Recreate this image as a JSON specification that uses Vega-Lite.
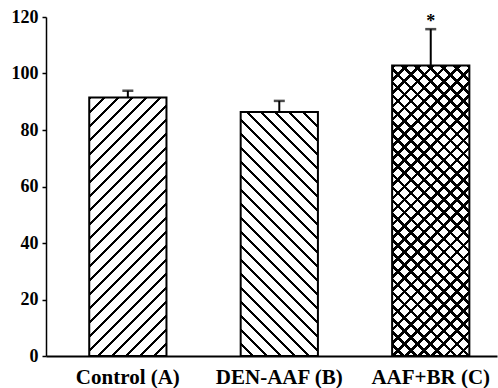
{
"$schema":"https://vega.github.io/schema/vega-lite/v6.json",
"autosize":{"type":"none"},
"padding":{"left":46,"top":17,"right":1,"bottom":32},
"width":451,"height":339,
"background":"white",
"config":{"view":{"stroke":null}},
"data":{"values":[
{"group":"Control (A)","value":91.5,"upper":93.9,"sig":""},
{"group":"DEN-AAF (B)","value":86.4,"upper":90.3,"sig":""},
{"group":"AAF+BR (C)","value":102.8,"upper":115.7,"sig":"*"}
]},
"encoding":{
"x":{"field":"group","type":"nominal","title":null,
 "scale":{"domain":["Control (A)","DEN-AAF (B)","AAF+BR (C)"],"paddingInner":0.49,"paddingOuter":0.234,"align":0.61},
 "axis":{"labelAngle":0,"ticks":false,"tickSize":0,"labelPadding":10,"domainColor":"black","domainWidth":2,"labelFont":"Liberation Serif","labelFontWeight":"bold","labelFontSize":21,"labelColor":"black","grid":false}},
"y":{"field":"value","type":"quantitative","title":null,
 "scale":{"domain":[0,120],"nice":false,"zero":true},
 "axis":{"values":[0,20,40,60,80,100,120],"grid":false,"domainColor":"black","domainWidth":1.5,"tickColor":"black","tickSize":4,"tickWidth":1.5,"labelPadding":4,"labelFont":"Liberation Serif","labelFontWeight":"bold","labelFontSize":18,"labelColor":"black"}}
},
"layer":[
{"transform":[{"filter":"datum.group === 'Control (A)'"}],
 "mark":{"type":"bar","stroke":"black","strokeWidth":2,
 "fill":{"gradient":"linear","x1":0,"y1":0,"x2":0.3563,"y2":1.1923,"stops":[
{"offset":0,"color":"black"},{"offset":0.008333,"color":"black"},{"offset":0.008333,"color":"white"},{"offset":0.041667,"color":"white"},
{"offset":0.041667,"color":"black"},{"offset":0.05,"color":"black"},{"offset":0.05,"color":"white"},{"offset":0.083333,"color":"white"},
{"offset":0.083333,"color":"black"},{"offset":0.091667,"color":"black"},{"offset":0.091667,"color":"white"},{"offset":0.125,"color":"white"},
{"offset":0.125,"color":"black"},{"offset":0.133333,"color":"black"},{"offset":0.133333,"color":"white"},{"offset":0.166667,"color":"white"},
{"offset":0.166667,"color":"black"},{"offset":0.175,"color":"black"},{"offset":0.175,"color":"white"},{"offset":0.208333,"color":"white"},
{"offset":0.208333,"color":"black"},{"offset":0.216667,"color":"black"},{"offset":0.216667,"color":"white"},{"offset":0.25,"color":"white"},
{"offset":0.25,"color":"black"},{"offset":0.258333,"color":"black"},{"offset":0.258333,"color":"white"},{"offset":0.291667,"color":"white"},
{"offset":0.291667,"color":"black"},{"offset":0.3,"color":"black"},{"offset":0.3,"color":"white"},{"offset":0.333333,"color":"white"},
{"offset":0.333333,"color":"black"},{"offset":0.341667,"color":"black"},{"offset":0.341667,"color":"white"},{"offset":0.375,"color":"white"},
{"offset":0.375,"color":"black"},{"offset":0.383333,"color":"black"},{"offset":0.383333,"color":"white"},{"offset":0.416667,"color":"white"},
{"offset":0.416667,"color":"black"},{"offset":0.425,"color":"black"},{"offset":0.425,"color":"white"},{"offset":0.458333,"color":"white"},
{"offset":0.458333,"color":"black"},{"offset":0.466667,"color":"black"},{"offset":0.466667,"color":"white"},{"offset":0.5,"color":"white"},
{"offset":0.5,"color":"black"},{"offset":0.508333,"color":"black"},{"offset":0.508333,"color":"white"},{"offset":0.541667,"color":"white"},
{"offset":0.541667,"color":"black"},{"offset":0.55,"color":"black"},{"offset":0.55,"color":"white"},{"offset":0.583333,"color":"white"},
{"offset":0.583333,"color":"black"},{"offset":0.591667,"color":"black"},{"offset":0.591667,"color":"white"},{"offset":0.625,"color":"white"},
{"offset":0.625,"color":"black"},{"offset":0.633333,"color":"black"},{"offset":0.633333,"color":"white"},{"offset":0.666667,"color":"white"},
{"offset":0.666667,"color":"black"},{"offset":0.675,"color":"black"},{"offset":0.675,"color":"white"},{"offset":0.708333,"color":"white"},
{"offset":0.708333,"color":"black"},{"offset":0.716667,"color":"black"},{"offset":0.716667,"color":"white"},{"offset":0.75,"color":"white"},
{"offset":0.75,"color":"black"},{"offset":0.758333,"color":"black"},{"offset":0.758333,"color":"white"},{"offset":0.791667,"color":"white"},
{"offset":0.791667,"color":"black"},{"offset":0.8,"color":"black"},{"offset":0.8,"color":"white"},{"offset":0.833333,"color":"white"},
{"offset":0.833333,"color":"black"},{"offset":0.841667,"color":"black"},{"offset":0.841667,"color":"white"},{"offset":0.875,"color":"white"},
{"offset":0.875,"color":"black"},{"offset":0.883333,"color":"black"},{"offset":0.883333,"color":"white"},{"offset":0.916667,"color":"white"},
{"offset":0.916667,"color":"black"},{"offset":0.925,"color":"black"},{"offset":0.925,"color":"white"},{"offset":0.958333,"color":"white"},
{"offset":0.958333,"color":"black"},{"offset":0.966667,"color":"black"},{"offset":0.966667,"color":"white"},{"offset":1,"color":"white"}
]}}},
{"transform":[{"filter":"datum.group === 'DEN-AAF (B)'"}],
 "mark":{"type":"bar","stroke":"black","strokeWidth":2,
 "fill":{"gradient":"linear","x1":1,"y1":0,"x2":0.6213,"y2":1.1966,"stops":[
{"offset":0,"color":"black"},{"offset":0.008696,"color":"black"},{"offset":0.008696,"color":"white"},{"offset":0.043478,"color":"white"},
{"offset":0.043478,"color":"black"},{"offset":0.052174,"color":"black"},{"offset":0.052174,"color":"white"},{"offset":0.086957,"color":"white"},
{"offset":0.086957,"color":"black"},{"offset":0.095652,"color":"black"},{"offset":0.095652,"color":"white"},{"offset":0.130435,"color":"white"},
{"offset":0.130435,"color":"black"},{"offset":0.13913,"color":"black"},{"offset":0.13913,"color":"white"},{"offset":0.173913,"color":"white"},
{"offset":0.173913,"color":"black"},{"offset":0.182609,"color":"black"},{"offset":0.182609,"color":"white"},{"offset":0.217391,"color":"white"},
{"offset":0.217391,"color":"black"},{"offset":0.226087,"color":"black"},{"offset":0.226087,"color":"white"},{"offset":0.26087,"color":"white"},
{"offset":0.26087,"color":"black"},{"offset":0.269565,"color":"black"},{"offset":0.269565,"color":"white"},{"offset":0.304348,"color":"white"},
{"offset":0.304348,"color":"black"},{"offset":0.313043,"color":"black"},{"offset":0.313043,"color":"white"},{"offset":0.347826,"color":"white"},
{"offset":0.347826,"color":"black"},{"offset":0.356522,"color":"black"},{"offset":0.356522,"color":"white"},{"offset":0.391304,"color":"white"},
{"offset":0.391304,"color":"black"},{"offset":0.4,"color":"black"},{"offset":0.4,"color":"white"},{"offset":0.434783,"color":"white"},
{"offset":0.434783,"color":"black"},{"offset":0.443478,"color":"black"},{"offset":0.443478,"color":"white"},{"offset":0.478261,"color":"white"},
{"offset":0.478261,"color":"black"},{"offset":0.486957,"color":"black"},{"offset":0.486957,"color":"white"},{"offset":0.521739,"color":"white"},
{"offset":0.521739,"color":"black"},{"offset":0.530435,"color":"black"},{"offset":0.530435,"color":"white"},{"offset":0.565217,"color":"white"},
{"offset":0.565217,"color":"black"},{"offset":0.573913,"color":"black"},{"offset":0.573913,"color":"white"},{"offset":0.608696,"color":"white"},
{"offset":0.608696,"color":"black"},{"offset":0.617391,"color":"black"},{"offset":0.617391,"color":"white"},{"offset":0.652174,"color":"white"},
{"offset":0.652174,"color":"black"},{"offset":0.66087,"color":"black"},{"offset":0.66087,"color":"white"},{"offset":0.695652,"color":"white"},
{"offset":0.695652,"color":"black"},{"offset":0.704348,"color":"black"},{"offset":0.704348,"color":"white"},{"offset":0.73913,"color":"white"},
{"offset":0.73913,"color":"black"},{"offset":0.747826,"color":"black"},{"offset":0.747826,"color":"white"},{"offset":0.782609,"color":"white"},
{"offset":0.782609,"color":"black"},{"offset":0.791304,"color":"black"},{"offset":0.791304,"color":"white"},{"offset":0.826087,"color":"white"},
{"offset":0.826087,"color":"black"},{"offset":0.834783,"color":"black"},{"offset":0.834783,"color":"white"},{"offset":0.869565,"color":"white"},
{"offset":0.869565,"color":"black"},{"offset":0.878261,"color":"black"},{"offset":0.878261,"color":"white"},{"offset":0.913043,"color":"white"},
{"offset":0.913043,"color":"black"},{"offset":0.921739,"color":"black"},{"offset":0.921739,"color":"white"},{"offset":0.956522,"color":"white"},
{"offset":0.956522,"color":"black"},{"offset":0.965217,"color":"black"},{"offset":0.965217,"color":"white"},{"offset":1,"color":"white"}
]}}},
{"transform":[{"filter":"datum.group === 'AAF+BR (C)'"}],
 "mark":{"type":"bar","strokeWidth":0,
 "fill":{"gradient":"linear","x1":0,"y1":0,"x2":0.3145,"y2":1.1823,"stops":[
{"offset":0,"color":"black"},{"offset":0.01,"color":"black"},{"offset":0.01,"color":"white"},{"offset":0.035714,"color":"white"},
{"offset":0.035714,"color":"black"},{"offset":0.045714,"color":"black"},{"offset":0.045714,"color":"white"},{"offset":0.071429,"color":"white"},
{"offset":0.071429,"color":"black"},{"offset":0.081429,"color":"black"},{"offset":0.081429,"color":"white"},{"offset":0.107143,"color":"white"},
{"offset":0.107143,"color":"black"},{"offset":0.117143,"color":"black"},{"offset":0.117143,"color":"white"},{"offset":0.142857,"color":"white"},
{"offset":0.142857,"color":"black"},{"offset":0.152857,"color":"black"},{"offset":0.152857,"color":"white"},{"offset":0.178571,"color":"white"},
{"offset":0.178571,"color":"black"},{"offset":0.188571,"color":"black"},{"offset":0.188571,"color":"white"},{"offset":0.214286,"color":"white"},
{"offset":0.214286,"color":"black"},{"offset":0.224286,"color":"black"},{"offset":0.224286,"color":"white"},{"offset":0.25,"color":"white"},
{"offset":0.25,"color":"black"},{"offset":0.26,"color":"black"},{"offset":0.26,"color":"white"},{"offset":0.285714,"color":"white"},
{"offset":0.285714,"color":"black"},{"offset":0.295714,"color":"black"},{"offset":0.295714,"color":"white"},{"offset":0.321429,"color":"white"},
{"offset":0.321429,"color":"black"},{"offset":0.331429,"color":"black"},{"offset":0.331429,"color":"white"},{"offset":0.357143,"color":"white"},
{"offset":0.357143,"color":"black"},{"offset":0.367143,"color":"black"},{"offset":0.367143,"color":"white"},{"offset":0.392857,"color":"white"},
{"offset":0.392857,"color":"black"},{"offset":0.402857,"color":"black"},{"offset":0.402857,"color":"white"},{"offset":0.428571,"color":"white"},
{"offset":0.428571,"color":"black"},{"offset":0.438571,"color":"black"},{"offset":0.438571,"color":"white"},{"offset":0.464286,"color":"white"},
{"offset":0.464286,"color":"black"},{"offset":0.474286,"color":"black"},{"offset":0.474286,"color":"white"},{"offset":0.5,"color":"white"},
{"offset":0.5,"color":"black"},{"offset":0.51,"color":"black"},{"offset":0.51,"color":"white"},{"offset":0.535714,"color":"white"},
{"offset":0.535714,"color":"black"},{"offset":0.545714,"color":"black"},{"offset":0.545714,"color":"white"},{"offset":0.571429,"color":"white"},
{"offset":0.571429,"color":"black"},{"offset":0.581429,"color":"black"},{"offset":0.581429,"color":"white"},{"offset":0.607143,"color":"white"},
{"offset":0.607143,"color":"black"},{"offset":0.617143,"color":"black"},{"offset":0.617143,"color":"white"},{"offset":0.642857,"color":"white"},
{"offset":0.642857,"color":"black"},{"offset":0.652857,"color":"black"},{"offset":0.652857,"color":"white"},{"offset":0.678571,"color":"white"},
{"offset":0.678571,"color":"black"},{"offset":0.688571,"color":"black"},{"offset":0.688571,"color":"white"},{"offset":0.714286,"color":"white"},
{"offset":0.714286,"color":"black"},{"offset":0.724286,"color":"black"},{"offset":0.724286,"color":"white"},{"offset":0.75,"color":"white"},
{"offset":0.75,"color":"black"},{"offset":0.76,"color":"black"},{"offset":0.76,"color":"white"},{"offset":0.785714,"color":"white"},
{"offset":0.785714,"color":"black"},{"offset":0.795714,"color":"black"},{"offset":0.795714,"color":"white"},{"offset":0.821429,"color":"white"},
{"offset":0.821429,"color":"black"},{"offset":0.831429,"color":"black"},{"offset":0.831429,"color":"white"},{"offset":0.857143,"color":"white"},
{"offset":0.857143,"color":"black"},{"offset":0.867143,"color":"black"},{"offset":0.867143,"color":"white"},{"offset":0.892857,"color":"white"},
{"offset":0.892857,"color":"black"},{"offset":0.902857,"color":"black"},{"offset":0.902857,"color":"white"},{"offset":0.928571,"color":"white"},
{"offset":0.928571,"color":"black"},{"offset":0.938571,"color":"black"},{"offset":0.938571,"color":"white"},{"offset":0.964286,"color":"white"},
{"offset":0.964286,"color":"black"},{"offset":0.974286,"color":"black"},{"offset":0.974286,"color":"white"},{"offset":1,"color":"white"}
]}}},
{"transform":[{"filter":"datum.group === 'AAF+BR (C)'"}],
 "mark":{"type":"bar","stroke":"black","strokeWidth":2,
 "fill":{"gradient":"linear","x1":1,"y1":0,"x2":0.6855,"y2":1.1823,"stops":[
{"offset":0,"color":"black"},{"offset":0.01,"color":"black"},{"offset":0.01,"color":"rgba(0,0,0,0)"},{"offset":0.035714,"color":"rgba(0,0,0,0)"},
{"offset":0.035714,"color":"black"},{"offset":0.045714,"color":"black"},{"offset":0.045714,"color":"rgba(0,0,0,0)"},{"offset":0.071429,"color":"rgba(0,0,0,0)"},
{"offset":0.071429,"color":"black"},{"offset":0.081429,"color":"black"},{"offset":0.081429,"color":"rgba(0,0,0,0)"},{"offset":0.107143,"color":"rgba(0,0,0,0)"},
{"offset":0.107143,"color":"black"},{"offset":0.117143,"color":"black"},{"offset":0.117143,"color":"rgba(0,0,0,0)"},{"offset":0.142857,"color":"rgba(0,0,0,0)"},
{"offset":0.142857,"color":"black"},{"offset":0.152857,"color":"black"},{"offset":0.152857,"color":"rgba(0,0,0,0)"},{"offset":0.178571,"color":"rgba(0,0,0,0)"},
{"offset":0.178571,"color":"black"},{"offset":0.188571,"color":"black"},{"offset":0.188571,"color":"rgba(0,0,0,0)"},{"offset":0.214286,"color":"rgba(0,0,0,0)"},
{"offset":0.214286,"color":"black"},{"offset":0.224286,"color":"black"},{"offset":0.224286,"color":"rgba(0,0,0,0)"},{"offset":0.25,"color":"rgba(0,0,0,0)"},
{"offset":0.25,"color":"black"},{"offset":0.26,"color":"black"},{"offset":0.26,"color":"rgba(0,0,0,0)"},{"offset":0.285714,"color":"rgba(0,0,0,0)"},
{"offset":0.285714,"color":"black"},{"offset":0.295714,"color":"black"},{"offset":0.295714,"color":"rgba(0,0,0,0)"},{"offset":0.321429,"color":"rgba(0,0,0,0)"},
{"offset":0.321429,"color":"black"},{"offset":0.331429,"color":"black"},{"offset":0.331429,"color":"rgba(0,0,0,0)"},{"offset":0.357143,"color":"rgba(0,0,0,0)"},
{"offset":0.357143,"color":"black"},{"offset":0.367143,"color":"black"},{"offset":0.367143,"color":"rgba(0,0,0,0)"},{"offset":0.392857,"color":"rgba(0,0,0,0)"},
{"offset":0.392857,"color":"black"},{"offset":0.402857,"color":"black"},{"offset":0.402857,"color":"rgba(0,0,0,0)"},{"offset":0.428571,"color":"rgba(0,0,0,0)"},
{"offset":0.428571,"color":"black"},{"offset":0.438571,"color":"black"},{"offset":0.438571,"color":"rgba(0,0,0,0)"},{"offset":0.464286,"color":"rgba(0,0,0,0)"},
{"offset":0.464286,"color":"black"},{"offset":0.474286,"color":"black"},{"offset":0.474286,"color":"rgba(0,0,0,0)"},{"offset":0.5,"color":"rgba(0,0,0,0)"},
{"offset":0.5,"color":"black"},{"offset":0.51,"color":"black"},{"offset":0.51,"color":"rgba(0,0,0,0)"},{"offset":0.535714,"color":"rgba(0,0,0,0)"},
{"offset":0.535714,"color":"black"},{"offset":0.545714,"color":"black"},{"offset":0.545714,"color":"rgba(0,0,0,0)"},{"offset":0.571429,"color":"rgba(0,0,0,0)"},
{"offset":0.571429,"color":"black"},{"offset":0.581429,"color":"black"},{"offset":0.581429,"color":"rgba(0,0,0,0)"},{"offset":0.607143,"color":"rgba(0,0,0,0)"},
{"offset":0.607143,"color":"black"},{"offset":0.617143,"color":"black"},{"offset":0.617143,"color":"rgba(0,0,0,0)"},{"offset":0.642857,"color":"rgba(0,0,0,0)"},
{"offset":0.642857,"color":"black"},{"offset":0.652857,"color":"black"},{"offset":0.652857,"color":"rgba(0,0,0,0)"},{"offset":0.678571,"color":"rgba(0,0,0,0)"},
{"offset":0.678571,"color":"black"},{"offset":0.688571,"color":"black"},{"offset":0.688571,"color":"rgba(0,0,0,0)"},{"offset":0.714286,"color":"rgba(0,0,0,0)"},
{"offset":0.714286,"color":"black"},{"offset":0.724286,"color":"black"},{"offset":0.724286,"color":"rgba(0,0,0,0)"},{"offset":0.75,"color":"rgba(0,0,0,0)"},
{"offset":0.75,"color":"black"},{"offset":0.76,"color":"black"},{"offset":0.76,"color":"rgba(0,0,0,0)"},{"offset":0.785714,"color":"rgba(0,0,0,0)"},
{"offset":0.785714,"color":"black"},{"offset":0.795714,"color":"black"},{"offset":0.795714,"color":"rgba(0,0,0,0)"},{"offset":0.821429,"color":"rgba(0,0,0,0)"},
{"offset":0.821429,"color":"black"},{"offset":0.831429,"color":"black"},{"offset":0.831429,"color":"rgba(0,0,0,0)"},{"offset":0.857143,"color":"rgba(0,0,0,0)"},
{"offset":0.857143,"color":"black"},{"offset":0.867143,"color":"black"},{"offset":0.867143,"color":"rgba(0,0,0,0)"},{"offset":0.892857,"color":"rgba(0,0,0,0)"},
{"offset":0.892857,"color":"black"},{"offset":0.902857,"color":"black"},{"offset":0.902857,"color":"rgba(0,0,0,0)"},{"offset":0.928571,"color":"rgba(0,0,0,0)"},
{"offset":0.928571,"color":"black"},{"offset":0.938571,"color":"black"},{"offset":0.938571,"color":"rgba(0,0,0,0)"},{"offset":0.964286,"color":"rgba(0,0,0,0)"},
{"offset":0.964286,"color":"black"},{"offset":0.974286,"color":"black"},{"offset":0.974286,"color":"rgba(0,0,0,0)"},{"offset":1,"color":"rgba(0,0,0,0)"}
]}}},
{"mark":{"type":"rule","color":"black","strokeWidth":2},
 "encoding":{"y2":{"field":"upper"}}},
{"mark":{"type":"tick","color":"black","thickness":2.5,"size":11},
 "encoding":{"y":{"field":"upper","type":"quantitative"}}},
{"transform":[{"filter":"datum.sig !== ''"}],
 "mark":{"type":"text","font":"Liberation Serif","fontSize":18,"fontWeight":"bold","color":"black","baseline":"alphabetic","dy":-2},
 "encoding":{"y":{"field":"upper","type":"quantitative"},"text":{"field":"sig"}}}
]
}
